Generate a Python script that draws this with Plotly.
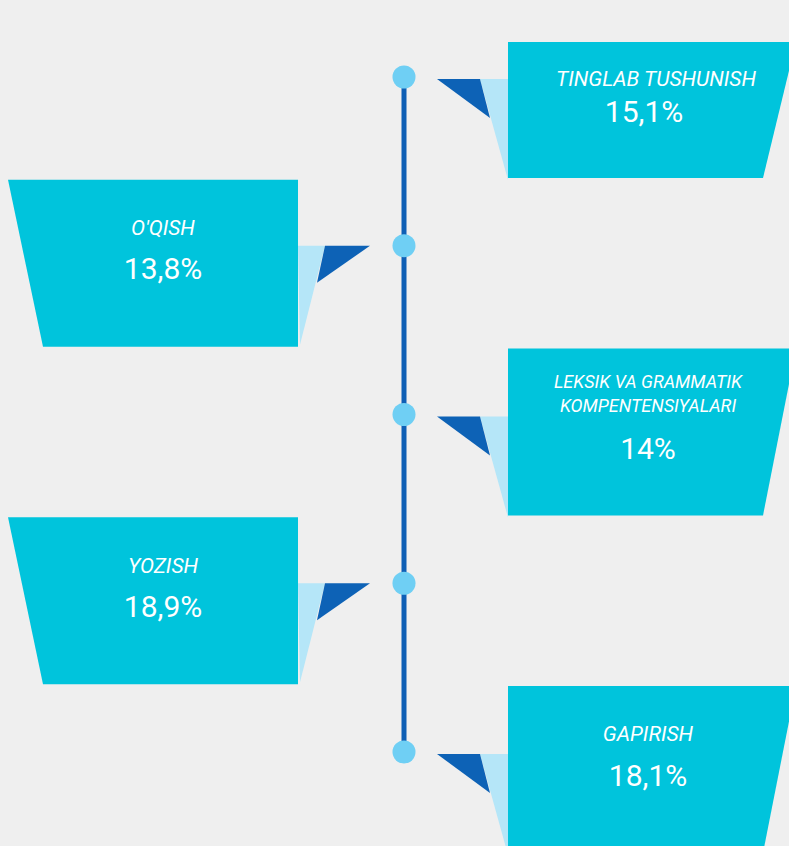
"""
Timeline infographic: share of each language skill (Uzbek labels).
"""

import plotly.graph_objects as go

# ---- data -------------------------------------------------------------
CATEGORIES = [
    "TINGLAB TUSHUNISH",
    "O'QISH",
    "LEKSIK VA GRAMMATIK<br>KOMPENTENSIYALARI",
    "YOZISH",
    "GAPIRISH",
]
VALUES = [15.1, 13.8, 14.0, 18.9, 18.1]
SIDES = ["right", "left", "right", "left", "right"]

# ---- style / layout constants ------------------------------------------
W, H = 789, 846
BG = "#efefef"
BOX = "#00c4dc"
FLAP = "#b5e6f8"
DARK = "#0d62b6"
DOT = "#6fcff4"
LINE = "#0e5fb5"

AXIS_X = 404
FIRST_DOT, STEP = 77, 168.75

RIGHT_L, RIGHT_TR, RIGHT_BR = 508, 796, 763
LEFT_TL, LEFT_BL, LEFT_R = 8, 43, 298
RIGHT_TEXT_X, LEFT_TEXT_X = 648, 163


def fmt(v):
    s = f"{v:.1f}".rstrip("0").rstrip(".")
    return s.replace(".", ",") + "%"


dots_y = [FIRST_DOT + i * STEP for i in range(len(CATEGORIES))]

shapes = []
title_x, title_y, value_x, value_y = [], [], [], []
for i, (cat, side) in enumerate(zip(CATEGORIES, SIDES)):
    d = dots_y[i]
    top = max(42, d - 66)
    bottom = d + 101
    if side == "right":
        box = (f"M {RIGHT_L},{top} L {RIGHT_TR},{top} "
               f"L {RIGHT_BR},{bottom} L {RIGHT_L},{bottom} Z")
        flap = f"M 480,{d + 2} L {RIGHT_L},{d + 2} L {RIGHT_L},{d + 103} Z"
        dark = f"M 437,{d + 2} L 480,{d + 2} L 490,{d + 41} Z"
        tx = RIGHT_TEXT_X
    else:
        box = (f"M {LEFT_TL},{top} L {LEFT_R},{top} "
               f"L {LEFT_R},{bottom} L {LEFT_BL},{bottom} Z")
        flap = f"M {LEFT_R},{d} L 325,{d} L 300,{d + 99} Z"
        dark = f"M 325,{d} L 370,{d} L 317,{d + 37} Z"
        tx = LEFT_TEXT_X
    for path, col in [(flap, FLAP), (box, BOX), (dark, DARK)]:
        shapes.append(dict(type="path", path=path, fillcolor=col,
                           line=dict(width=0), layer="below"))

    # text placement inside each box
    if i == 0:
        ty, vy = d + 4, d + 37
    elif "<br>" in cat:
        ty, vy = d - 19, d + 37
    else:
        ty, vy = d - 16, d + 26
    title_x.append(tx + (8 if i == 0 else 0))
    title_y.append(ty)
    value_x.append(tx - (4 if i == 0 else 0))
    value_y.append(vy)

fig = go.Figure()

# timeline spine
fig.add_trace(go.Scatter(
    x=[AXIS_X, AXIS_X], y=[dots_y[0], dots_y[-1]],
    mode="lines", line=dict(color=LINE, width=5),
    hoverinfo="skip", showlegend=False,
))
# dots
fig.add_trace(go.Scatter(
    x=[AXIS_X] * len(dots_y), y=dots_y,
    mode="markers", marker=dict(color=DOT, size=23, line=dict(width=0)),
    hoverinfo="skip", showlegend=False,
))
# titles
fig.add_trace(go.Scatter(
    x=title_x, y=title_y, mode="text",
    text=[f"<i>{c}</i>" for c in CATEGORIES],
    textfont=dict(family="Roboto", size=[21, 21, 18, 21, 21], color="white"),
    textposition="middle center",
    hoverinfo="skip", showlegend=False,
))
# values
fig.add_trace(go.Scatter(
    x=value_x, y=value_y, mode="text",
    text=[fmt(v) for v in VALUES],
    textfont=dict(family="Roboto", size=30, color="white"),
    textposition="middle center",
    hoverinfo="skip", showlegend=False,
))

fig.update_layout(
    width=W, height=H,
    margin=dict(l=0, r=0, t=0, b=0),
    paper_bgcolor=BG, plot_bgcolor=BG,
    shapes=shapes,
    xaxis=dict(range=[0, W], visible=False, fixedrange=True),
    yaxis=dict(range=[H, 0], visible=False, fixedrange=True),
    showlegend=False,
)

fig.write_html(
    "out.html",
    config={"displayModeBar": False},
    post_script="document.body.style.margin='0';document.body.style.overflow='hidden';",
)
